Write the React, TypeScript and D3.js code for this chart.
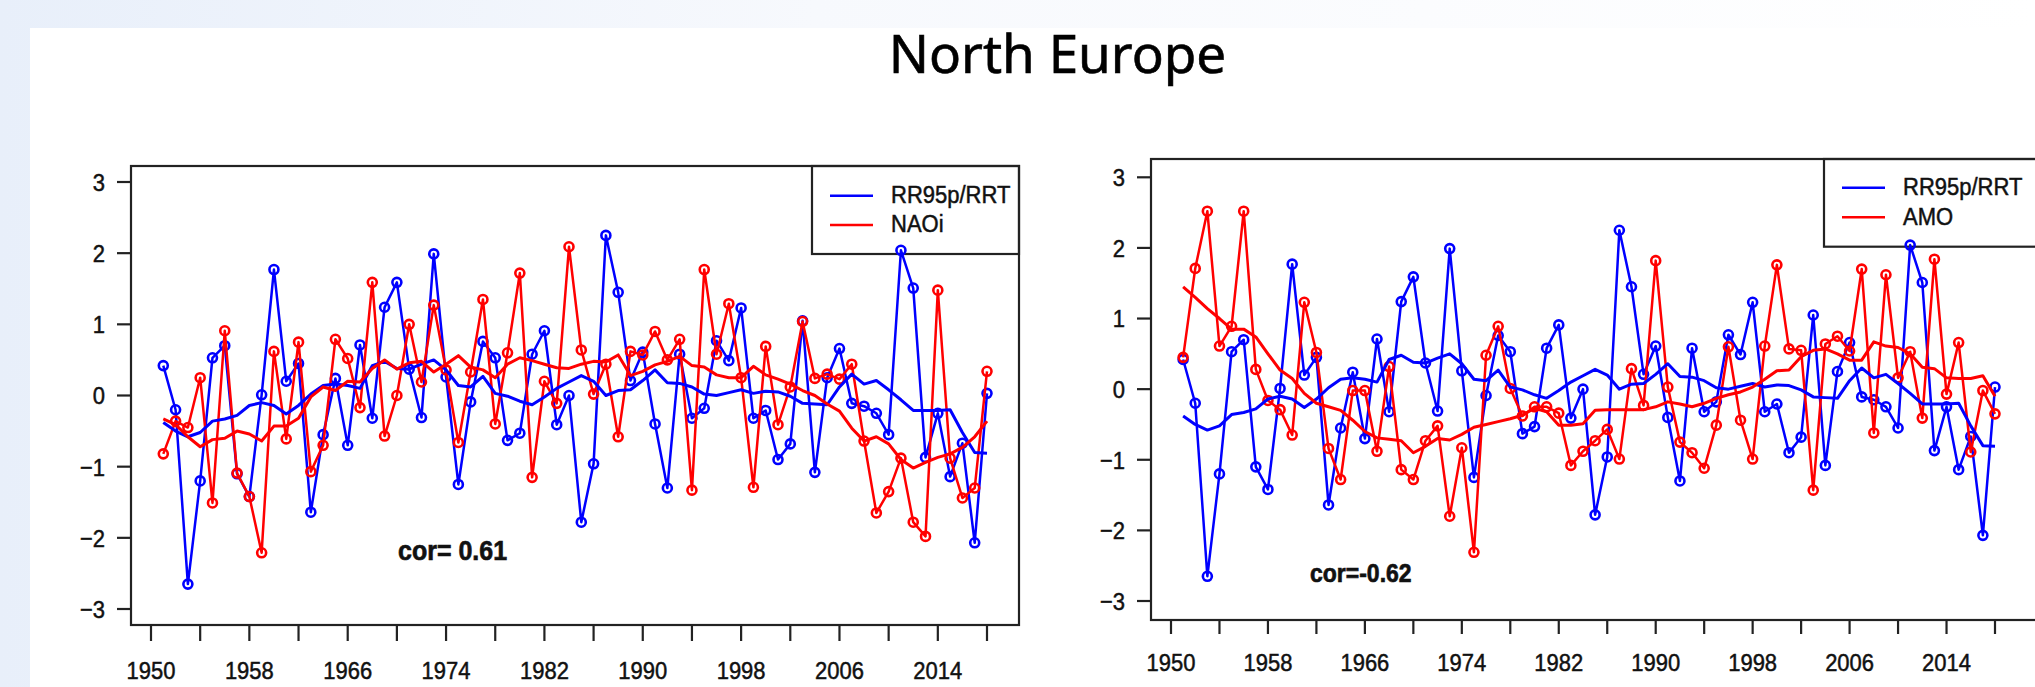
import React, { useEffect, useRef } from 'react';
import * as d3 from 'd3';

const width = 2035;
const height = 687;

const years = d3.range(1951, 2019);

// RR95p/RRT (same series in both panels)
const rr95 = [
  0.42, -0.20, -2.65, -1.20, 0.53, 0.70, -1.10, -1.42, 0.01, 1.77,
  0.20, 0.45, -1.64, -0.55, 0.24, -0.70, 0.71, -0.32, 1.24, 1.59,
  0.37, -0.31, 1.99, 0.26, -1.25, -0.09, 0.76, 0.53, -0.63, -0.53,
  0.58, 0.91, -0.41, 0.00, -1.78, -0.96, 2.25, 1.45, 0.21, 0.61,
  -0.40, -1.30, 0.58, -0.32, -0.18, 0.77, 0.49, 1.23, -0.32, -0.21,
  -0.90, -0.68, 1.05, -1.08, 0.25, 0.66, -0.11, -0.15, -0.25, -0.55,
  2.04, 1.51, -0.87, -0.25, -1.14, -0.67, -2.07, 0.03
];

const naoi = [
  -0.82, -0.36, -0.45, 0.25, -1.51, 0.91, -1.09, -1.42, -2.21, 0.62,
  -0.61, 0.75, -1.07, -0.70, 0.79, 0.52, -0.17, 1.59, -0.57, 0.00,
  1.00, 0.19, 1.27, 0.36, -0.66, 0.33, 1.35, -0.40, 0.60, 1.72,
  -1.15, 0.20, -0.11, 2.09, 0.64, 0.02, 0.44, -0.58, 0.62, 0.57,
  0.90, 0.50, 0.79, -1.33, 1.77, 0.58, 1.29, 0.25, -1.29, 0.69,
  -0.41, 0.12, 1.04, 0.24, 0.30, 0.23, 0.44, -0.64, -1.65, -1.35,
  -0.88, -1.78, -1.98, 1.48, -0.88, -1.44, -1.30, 0.34
];

const amo = [
  0.45, 1.71, 2.52, 0.61, 0.89, 2.52, 0.28, -0.16, -0.29, -0.65,
  1.23, 0.52, -0.84, -1.28, -0.02, -0.02, -0.88, 0.32, -1.14, -1.28,
  -0.73, -0.52, -1.80, -0.83, -2.31, 0.48, 0.89, 0.01, -0.38, -0.25,
  -0.25, -0.34, -1.08, -0.88, -0.73, -0.57, -0.99, 0.29, -0.23, 1.82,
  0.03, -0.75, -0.90, -1.12, -0.51, 0.60, -0.44, -0.99, 0.61, 1.76,
  0.57, 0.55, -1.43, 0.64, 0.75, 0.54, 1.70, -0.62, 1.62, 0.16,
  0.53, -0.41, 1.84, -0.07, 0.66, -0.89, -0.02, -0.35
];

const rr95Smooth = [
  -0.38, -0.50, -0.58, -0.52, -0.36, -0.33, -0.28, -0.14, -0.10, -0.14,
  -0.26, -0.14, 0.02, 0.14, 0.16, 0.14, 0.10, 0.42, 0.48, 0.38,
  0.37, 0.44, 0.50, 0.36, 0.14, 0.12, 0.27, 0.03, -0.01, -0.08,
  -0.13, -0.02, 0.10, 0.19, 0.28, 0.20, 0.00, 0.07, 0.08, 0.21,
  0.36, 0.18, 0.17, 0.12, 0.02, 0.00, 0.04, 0.08, 0.03, 0.06,
  0.05, -0.01, -0.11, -0.12, -0.13, 0.12, 0.30, 0.16, 0.21, 0.08,
  -0.06, -0.21, -0.21, -0.21, -0.20, -0.52, -0.80, -0.81
];

const naoiSmooth = [
  -0.33, -0.41, -0.58, -0.72, -0.62, -0.60, -0.50, -0.54, -0.64, -0.43,
  -0.43, -0.32, -0.02, 0.12, 0.07, 0.20, 0.19, 0.38, 0.50, 0.37,
  0.46, 0.48, 0.33, 0.44, 0.56, 0.40, 0.36, 0.25, 0.44, 0.53,
  0.49, 0.44, 0.39, 0.38, 0.44, 0.48, 0.47, 0.57, 0.28, 0.34,
  0.43, 0.48, 0.55, 0.42, 0.40, 0.29, 0.25, 0.25, 0.41, 0.29,
  0.23, 0.16, 0.07, 0.00, -0.12, -0.22, -0.46, -0.64, -0.58, -0.68,
  -0.90, -1.02, -0.94, -0.87, -0.82, -0.73, -0.58, -0.36
];

const amoSmooth = [
  1.45, 1.30, 1.14, 1.00, 0.85, 0.85, 0.74, 0.50, 0.27, 0.15,
  -0.06, -0.20, -0.25, -0.30, -0.44, -0.60, -0.69, -0.71, -0.73, -0.90,
  -0.81, -0.70, -0.72, -0.64, -0.54, -0.50, -0.46, -0.42, -0.37, -0.27,
  -0.32, -0.51, -0.51, -0.49, -0.30, -0.29, -0.29, -0.29, -0.29, -0.25,
  -0.18, -0.21, -0.25, -0.20, -0.13, -0.08, -0.04, 0.03, 0.14, 0.26,
  0.27, 0.46, 0.55, 0.57, 0.50, 0.41, 0.41, 0.67, 0.61, 0.59,
  0.50, 0.31, 0.29, 0.16, 0.15, 0.15, 0.19, -0.10
];

const xTicks = [1950, 1954, 1958, 1962, 1966, 1970, 1974, 1978, 1982, 1986, 1990, 1994, 1998, 2002, 2006, 2010, 2014, 2018];
const xLabels = [1950, 1958, 1966, 1974, 1982, 1990, 1998, 2006, 2014];
const yTicks = [-3, -2, -1, 0, 1, 2, 3];
const seriesName = 'RR95p/RRT';

const panels = [
  {
    box: { l: 131, t: 166, r: 1019, b: 625 },
    xr: [151, 987], yr: [609, 182],
    xTickLen: 16, xLabelY: 670.5,
    other: naoi, otherSmooth: naoiSmooth, otherName: 'NAOi',
    legend: { l: 812, b: 254, blueY: 195.7, redY: 225 },
    cor: { text: 'cor= 0.61', x: 398, y: 550, size: 25 }
  },
  {
    box: { l: 1151, t: 159, r: 2045, b: 620 },
    xr: [1171, 1995], yr: [601, 177.3],
    xTickLen: 14, xLabelY: 662.5,
    other: amo, otherSmooth: amoSmooth, otherName: 'AMO',
    legend: { l: 1824, b: 246.7, blueY: 187.7, redY: 217.3 },
    cor: { text: 'cor=-0.62', x: 1310, y: 572.7, size: 23 }
  }
];

const axisFont = '"Liberation Sans", Arial, Helvetica, sans-serif';

function addText(g, x, y, str, anchor, size, weight = 'normal') {
  g.append('text')
    .attr('transform', `translate(${x},${y}) scale(1,1.12)`)
    .attr('text-anchor', anchor)
    .attr('dy', '0.36em')
    .style('font-family', axisFont)
    .style('font-size', size + 'px')
    .style('font-weight', weight)
    .attr('fill', '#111')
    .attr('stroke', '#111')
    .attr('stroke-width', weight === 'bold' ? 0.6 : 0.45)
    .text(str);
}

function drawPanel(svg, p) {
  const x = d3.scaleLinear().domain([1950, 2018]).range(p.xr);
  const y = d3.scaleLinear().domain([-3, 3]).range(p.yr);
  const g = svg.append('g');

  // y axis
  yTicks.forEach(t => {
    g.append('line')
      .attr('x1', p.box.l - 14).attr('x2', p.box.l)
      .attr('y1', y(t)).attr('y2', y(t))
      .attr('stroke', '#222').attr('stroke-width', 2.2);
    addText(g, p.box.l - 26, y(t), t < 0 ? '\u2212' + Math.abs(t) : String(t), 'end', 22);
  });

  // x axis
  xTicks.forEach(t => {
    g.append('line')
      .attr('x1', x(t)).attr('x2', x(t))
      .attr('y1', p.box.b).attr('y2', p.box.b + p.xTickLen)
      .attr('stroke', '#222').attr('stroke-width', 2.2);
  });
  xLabels.forEach(t => addText(g, x(t), p.xLabelY, String(t), 'middle', 22));

  // legend
  const lg = g.append('g');
  lg.append('rect')
    .attr('x', p.legend.l).attr('y', p.box.t)
    .attr('width', p.box.r - p.legend.l).attr('height', p.legend.b - p.box.t)
    .attr('fill', 'white').attr('stroke', '#222').attr('stroke-width', 2.2);
  [[seriesName, '#0000ff', p.legend.blueY], [p.otherName, '#ff0000', p.legend.redY]].forEach(([name, col, ly]) => {
    lg.append('line')
      .attr('x1', p.legend.l + 18).attr('x2', p.legend.l + 61)
      .attr('y1', ly).attr('y2', ly)
      .attr('stroke', col).attr('stroke-width', 2.4);
    addText(lg, p.legend.l + 79, ly - 1.5, name, 'start', 22);
  });

  const line = d3.line().x((d, i) => x(years[i])).y(d => y(d));

  const drawSeries = (vals, col) => {
    g.append('path')
      .attr('d', line(vals))
      .attr('fill', 'none').attr('stroke', col).attr('stroke-width', 2.5)
      .attr('stroke-linejoin', 'round');
    g.selectAll(null)
      .data(vals)
      .enter()
      .append('circle')
      .attr('cx', (d, i) => x(years[i]))
      .attr('cy', d => y(d))
      .attr('r', 4.5)
      .attr('fill', 'none').attr('stroke', col).attr('stroke-width', 2.6);
  };
  drawSeries(rr95, '#0000ff');
  drawSeries(p.other, '#ff0000');

  [[rr95Smooth, '#0000ff'], [p.otherSmooth, '#ff0000']].forEach(([vals, col]) => {
    g.append('path')
      .attr('d', line(vals))
      .attr('fill', 'none').attr('stroke', col).attr('stroke-width', 3)
      .attr('stroke-linejoin', 'round');
  });

  // box
  g.append('rect')
    .attr('x', p.box.l).attr('y', p.box.t)
    .attr('width', p.box.r - p.box.l).attr('height', p.box.b - p.box.t)
    .attr('fill', 'none').attr('stroke', '#222').attr('stroke-width', 2.2);

  addText(g, p.cor.x, p.cor.y, p.cor.text, 'start', p.cor.size, 'bold');
}

const App = () => {
  const ref = useRef(null);

  useEffect(() => {
    const svg = d3.select(ref.current);
    svg.selectAll('*').remove();

    const grad = svg.append('defs').append('linearGradient')
      .attr('id', 'bg').attr('x1', 0).attr('x2', 1).attr('y1', 0).attr('y2', 0);
    grad.append('stop').attr('offset', '0%').attr('stop-color', '#e8effa');
    grad.append('stop').attr('offset', '40%').attr('stop-color', '#f7f9fd');
    grad.append('stop').attr('offset', '100%').attr('stop-color', '#ffffff');

    svg.append('rect').attr('width', width).attr('height', height).attr('fill', 'url(#bg)');
    svg.append('rect').attr('x', 30).attr('y', 28)
      .attr('width', width - 30).attr('height', height - 28).attr('fill', 'white');

    svg.append('text')
      .attr('x', 1057.5).attr('y', 72.7)
      .attr('text-anchor', 'middle')
      .style('font-family', '"Noto Sans", sans-serif')
      .style('font-size', '53px')
      .attr('fill', '#000')
      .attr('stroke', '#000')
      .attr('stroke-width', 0.6)
      .text('North Europe');

    panels.forEach(p => drawPanel(svg, p));
  }, []);

  return (
    <svg ref={ref} width={width} height={height}
      style={{ position: 'absolute', left: 0, top: 0, display: 'block' }} />
  );
};

export default App;
